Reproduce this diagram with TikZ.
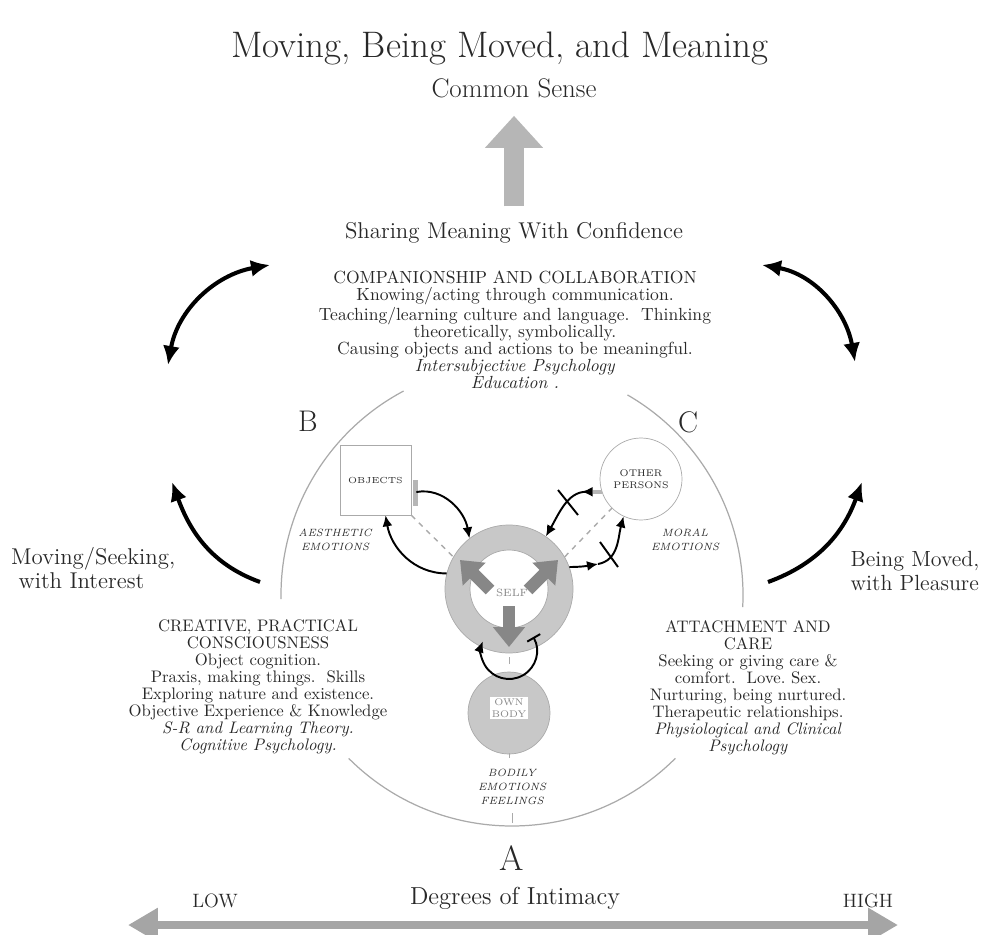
\documentclass[tikz,border=0pt]{standalone}
\usepackage{tikz}
\usetikzlibrary{arrows.meta,calc}
\definecolor{ringgray}{RGB}{200,200,200}
\definecolor{selfgray}{RGB}{135,135,135}
\definecolor{axisgray}{RGB}{165,165,165}
\definecolor{upgray}{RGB}{182,182,182}
\definecolor{arcgray}{RGB}{170,170,170}
\definecolor{inkgray}{RGB}{40,40,40}

\tikzset{
  blocktext/.style={align=center, text=inkgray, inner sep=0pt, font=\fontsize{9.5}{9.7}\selectfont},
  tinylabel/.style={align=center, text=inkgray, inner sep=0pt, font=\fontsize{6}{8}\selectfont\itshape},
  bigarrow/.style={line width=2.3pt, -{Latex[length=0.38cm,width=0.34cm]}},
  twoway/.style={line width=2.3pt, {Latex[length=0.38cm,width=0.34cm]}-{Latex[length=0.38cm,width=0.34cm]}},
  link/.style={line width=1.1pt, -{Latex[length=0.22cm,width=0.2cm]}},
  selfarrow/.style={selfgray, line width=7pt, -{Triangle[length=0.4cm,width=0.62cm]}},
}

\begin{document}
\begin{tikzpicture}[x=0.02cm, y=0.02cm]
    \useasboundingbox (0,0) rectangle (989,934);

    % Title and top
    \node[text=inkgray, font=\fontsize{21}{24}\selectfont] (title) at (500,886) {Moving, Being Moved, and Meaning};
    \node[text=inkgray, font=\fontsize{15.3}{17}\selectfont] (common) at (514,846) {Common Sense};
    \node[text=inkgray, font=\fontsize{13}{15}\selectfont] (sharing) at (514,701) {Sharing Meaning With Confidence};
    \draw[upgray, line width=11pt, -{Triangle[length=0.64cm,width=1.12cm]}] ($(common.south |- sharing.north)+(0,10)$) -- ($(common.south)+(0,-12)$);

    \node[blocktext, anchor=north, font=\fontsize{10}{9.7}\selectfont] (companion) at (515,663) {COMPANIONSHIP AND COLLABORATION\\
        Knowing/acting through communication.\\
        Teaching/learning culture and language.\ \ Thinking\\
        theoretically, symbolically.\\
        Causing objects and actions to be meaningful.\\
        \textit{Intersubjective Psychology}\\
        \textit{Education .}};

    % Curved arrows round the circle
    \coordinate (tlA) at (168,569);
    \coordinate (tlB) at (270,669);
    \coordinate (trA) at (762,669);
    \coordinate (trB) at (855,572);
    \coordinate (blA) at (260,352);
    \coordinate (blB) at (172,452);
    \coordinate (brA) at (768,352);
    \coordinate (brB) at (862,452);
    \draw[twoway] (tlA) to[out=80, in=190] (tlB);
    \draw[twoway] (trA) to[out=-10, in=100] (trB);
    \draw[bigarrow] (blA) to[out=160, in=-70] (blB);
    \draw[bigarrow] (brA) to[out=20, in=-110] (brB);

    \node[text=inkgray, font=\fontsize{13}{14}\selectfont, align=left, anchor=west] (seeking) at (5,366) {Moving/Seeking,\\\ with Interest};
    \node[text=inkgray, font=\fontsize{12.5}{14}\selectfont, align=left] (pleasure) at (915,363) {Being Moved,\\with Pleasure};

    % Circle of relations
    \coordinate (hub) at (512,339);
    \draw[arcgray, line width=0.7pt] (hub) ++(118:231) arc[start angle=118, end angle=181, radius=231];
    \draw[arcgray, line width=0.7pt] (hub) ++(60:231) arc[start angle=60, end angle=-3, radius=231];
    \draw[arcgray, line width=0.7pt] (hub) ++(225:231) arc[start angle=225, end angle=315, radius=231];
    \draw[arcgray] (512,111) -- (512,121);

    \node[text=inkgray, font=\fontsize{17}{19}\selectfont] (labelB) at (308,513) {B};
    \node[text=inkgray, font=\fontsize{17}{19}\selectfont] (labelC) at (688,512) {C};

    % Objects and other persons
    \node[draw=arcgray, minimum width=1.42cm, minimum height=1.4cm, text=inkgray, font=\fontsize{5}{6}\selectfont] (objects) at (375.5,454) {OBJECTS};
    \node[circle, draw=arcgray, minimum size=1.64cm, align=center, inner sep=0pt, text=inkgray, font=\fontsize{5.5}{6.5}\selectfont] (others) at (641,455) {OTHER\\PERSONS};
    \node[tinylabel] (aesthetic) at (335,394) {AESTHETIC\\EMOTIONS};
    \node[tinylabel] (moral) at (685,394) {MORAL\\EMOTIONS};

    % Self and own body
    \node[circle, minimum size=2.56cm] (self) at (509,345) {};
    \fill[ringgray, even odd rule] (self.center) circle[radius=64] (self.center) circle[radius=39];
    \draw[arcgray] (self.center) circle[radius=64] (self.center) circle[radius=39];
    \node[text=selfgray, font=\fontsize{6}{7}\selectfont] (selflabel) at (512,341) {SELF};
    \draw[selfarrow] (490,344) -- (460,374);
    \draw[selfarrow] (528,344) -- (558,374);
    \draw[selfarrow] (509,328) -- (509,287);

    \node[circle, draw=arcgray, fill=ringgray, minimum size=1.64cm] (body) at (509,221) {};
    \node[fill=white, align=center, inner sep=1pt, text=selfgray, font=\fontsize{5.5}{6.5}\selectfont] (bodylabel) at (509,226) {OWN\\BODY};
    \draw[arcgray] (509,270) -- (509,277);
    \draw[arcgray] (509,176) -- (509,181);
    \node[tinylabel] (bodily) at (512,147) {BODILY\\EMOTIONS\\FEELINGS};

    % Links
    \draw[upgray, line width=2.5pt] ($(objects.east)+(4,0)$) -- ($(objects.east)+(4,-26)$);
    \draw[link] ($(objects.east)+(5,-12)$) to[out=10, in=100] (self.128);
    \draw[link] (self.166) to[out=180, in=-80] ($(objects.south)+(10,0)$);
    \draw[arcgray, dashed, line width=0.8pt] (objects.south east) -- (self.150);

    \draw[upgray, line width=2pt] (others.198) -- ++(-9,0) coordinate (opstart);
    \draw[line width=1.1pt, {Latex[reversed,length=0.22cm,width=0.2cm]}-{Latex[length=0.22cm,width=0.2cm]}] (opstart) to[out=180, in=60] (self.55);
    \draw[line width=1.1pt] (558,444) -- (578,419);
    \draw[arcgray, dashed, line width=0.8pt] (self.30) -- (others.225);
    \coordinate (moralmid) at (598,370);
    \draw[link] (self.20) to[out=0, in=190] (moralmid);
    \draw[link] (moralmid) to[out=10, in=255] (others.245);
    \draw[line width=1.1pt] (600,392) -- (618,367);

    \coordinate (loop) at ($(self.center)!0.5!(body.center)$);
    \draw[line width=1.1pt, {Bar[width=0.3cm]}-{Latex[length=0.22cm,width=0.2cm]}] (loop) ++(30:28) arc[start angle=30, end angle=-200, radius=28];

    % Side blocks
    \node[blocktext, anchor=north] (creative) at (258,315) {CREATIVE, PRACTICAL\\
        CONSCIOUSNESS\\
        Object cognition.\\
        Praxis, making things.\ \ Skills\\
        Exploring nature and existence.\\
        Objective Experience \& Knowledge\\
        \textit{S-R and Learning Theory.}\\
        \textit{Cognitive Psychology.}};
    \node[blocktext, anchor=north] (attachment) at (748,314) {ATTACHMENT AND\\
        CARE\\
        Seeking or giving care \&\\
        comfort.\ \ Love.\ Sex.\\
        Nurturing, being nurtured.\\
        Therapeutic relationships.\\
        \textit{Physiological and Clinical}\\
        \textit{Psychology}};

    % Intimacy axis
    \node[text=inkgray, font=\fontsize{20}{22}\selectfont] (labelA) at (512,76) {A};
    \node[text=inkgray, font=\fontsize{14}{16}\selectfont] (degrees) at (515,36) {Degrees of Intimacy};
    \node[text=inkgray, font=\fontsize{11}{13}\selectfont] (low) at (215,33) {LOW};
    \node[text=inkgray, font=\fontsize{11}{13}\selectfont] (high) at (868,33) {HIGH};
    \coordinate (lowend) at (128,9);
    \coordinate (highend) at (898,9);
    \draw[axisgray, line width=4.5pt, {Triangle[length=0.6cm,width=0.65cm]}-{Triangle[length=0.6cm,width=0.65cm]}] (lowend) -- (highend);
\end{tikzpicture}
\end{document}
